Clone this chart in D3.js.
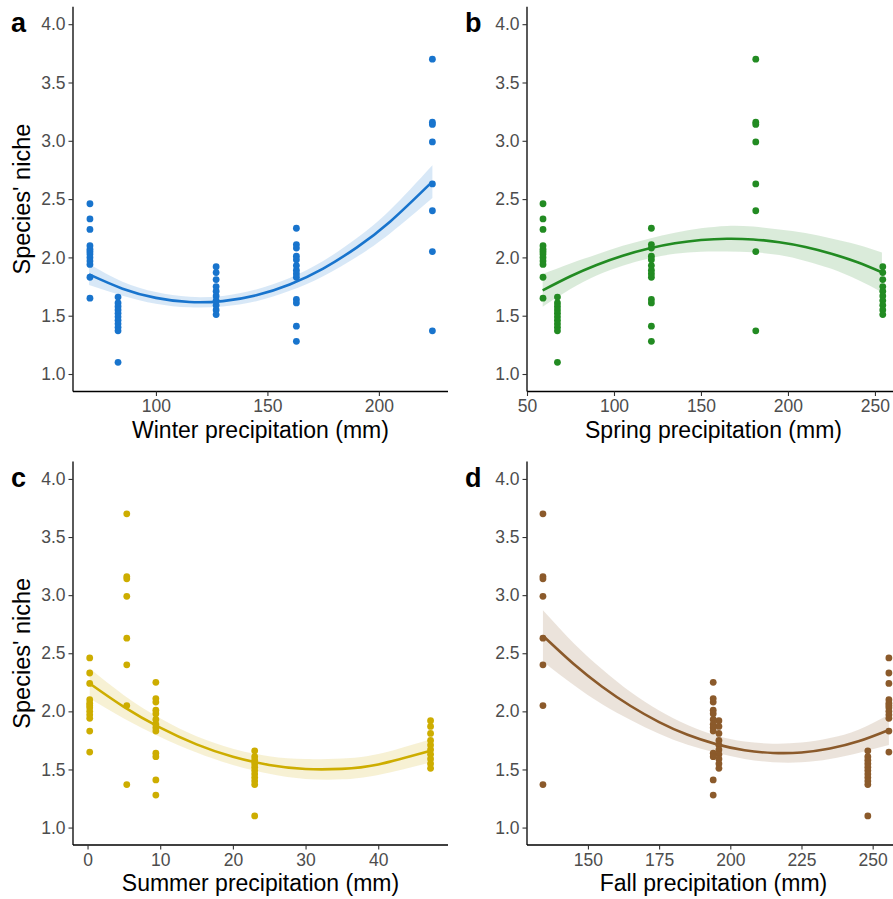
<!DOCTYPE html>
<html><head><meta charset="utf-8">
<script src="https://cdn.jsdelivr.net/npm/d3@7"></script>
<style>
html,body{margin:0;padding:0;background:#fff;}
svg{display:block;font-family:"Liberation Sans",Arial,sans-serif;}
</style></head>
<body><svg id="chart" width="893" height="899"></svg>
<script>
// ---- Species' niche values observed at each of the five sites ----
const nicheSiteA = [2.46, 2.33, 2.24, 2.10, 2.07, 2.05, 2.03, 2.00, 1.97, 1.94, 1.83, 1.65];
const nicheSiteB = [1.66, 1.61, 1.58, 1.55, 1.52, 1.49, 1.46, 1.43, 1.40, 1.37, 1.10];
const nicheSiteC = [1.92, 1.87, 1.81, 1.75, 1.71, 1.67, 1.63, 1.59, 1.55, 1.51];
const nicheSiteD = [2.25, 2.11, 2.08, 2.01, 1.98, 1.93, 1.89, 1.86, 1.83, 1.64, 1.61, 1.41, 1.28];
const nicheSiteE = [3.70, 3.16, 3.14, 2.99, 2.63, 2.40, 2.05, 1.37];

// ---- Seasonal precipitation (mm) at sites A..E ----
const winterPrecip = [70.4, 83.0, 127.0, 163.0, 224.0];
const springPrecip = [59.2, 67.5, 254.5, 121.5, 181.5];
const summerPrecip = [0.3, 23.0, 47.2, 9.4, 5.4];
const fallPrecip   = [255.7, 248.3, 196.0, 194.0, 134.2];

// ---- Quadratic fits (x, fit, lower, upper) ----
const winterFitX  = [70, 85, 100, 115, 130, 145, 160, 175, 190, 205, 224];
const winterFitY  = [1.854, 1.732, 1.653, 1.617, 1.625, 1.675, 1.768, 1.904, 2.084, 2.306, 2.650];
const winterFitLo = [1.764, 1.672, 1.603, 1.572, 1.580, 1.625, 1.713, 1.839, 2.004, 2.206, 2.510];
const winterFitHi = [1.944, 1.792, 1.703, 1.662, 1.670, 1.725, 1.823, 1.969, 2.164, 2.406, 2.790];

const springFitX  = [59, 75, 90, 105, 120, 135, 150, 165, 180, 195, 210, 225, 240, 254];
const springFitY  = [1.717, 1.838, 1.935, 2.014, 2.076, 2.121, 2.149, 2.160, 2.154, 2.130, 2.090, 2.032, 1.958, 1.872];
const springFitLo = [1.577, 1.728, 1.845, 1.929, 1.991, 2.031, 2.049, 2.050, 2.044, 2.020, 1.970, 1.902, 1.808, 1.702];
const springFitHi = [1.857, 1.948, 2.025, 2.099, 2.161, 2.211, 2.249, 2.270, 2.264, 2.240, 2.210, 2.162, 2.108, 2.042];

const summerFitX  = [0.3, 5, 10, 15, 20, 25, 30, 35, 40, 47.2];
const summerFitY  = [2.240, 2.039, 1.860, 1.716, 1.609, 1.539, 1.504, 1.505, 1.543, 1.660];
const summerFitLo = [2.110, 1.939, 1.780, 1.646, 1.539, 1.464, 1.419, 1.415, 1.453, 1.560];
const summerFitHi = [2.370, 2.139, 1.940, 1.786, 1.679, 1.614, 1.589, 1.595, 1.633, 1.760];

const fallFitX  = [134.2, 145, 155, 165, 175, 185, 195, 205, 215, 225, 235, 245, 255.7];
const fallFitY  = [2.650, 2.407, 2.212, 2.046, 1.908, 1.798, 1.718, 1.665, 1.642, 1.646, 1.680, 1.742, 1.840];
const fallFitLo = [2.430, 2.227, 2.062, 1.926, 1.808, 1.713, 1.643, 1.590, 1.562, 1.561, 1.590, 1.642, 1.710];
const fallFitHi = [2.870, 2.587, 2.362, 2.166, 2.008, 1.883, 1.793, 1.740, 1.722, 1.731, 1.770, 1.842, 1.970];

// ---- Axis ticks and labels ----
const yTicks = [1.0, 1.5, 2.0, 2.5, 3.0, 3.5, 4.0];
const yDomain = [0.85, 4.15];
const winterTicks = [100, 150, 200];
const springTicks = [50, 100, 150, 200, 250];
const summerTicks = [0, 10, 20, 30, 40];
const fallTicks = [150, 175, 200, 225, 250];
const panelLetters = ["a", "b", "c", "d"];
const xTitles = ["Winter precipitation (mm)", "Spring precipitation (mm)", "Summer precipitation (mm)", "Fall precipitation (mm)"];
const yTitle = "Species' niche";

const nicheBySite = [nicheSiteA, nicheSiteB, nicheSiteC, nicheSiteD, nicheSiteE];

const panels = [
  {letter: panelLetters[0], precip: winterPrecip, ticks: winterTicks, title: xTitles[0], domain: [62.8, 231.0],
   fx: winterFitX, fy: winterFitY, flo: winterFitLo, fhi: winterFitHi, color: "#1874CD",
   x0: 73, x1: 448, y0: 6.7, y1: 391.5, ytitle: true},
  {letter: panelLetters[1], precip: springPrecip, ticks: springTicks, title: xTitles[1], domain: [50, 264.4],
   fx: springFitX, fy: springFitY, flo: springFitLo, fhi: springFitHi, color: "#228B22",
   x0: 527, x1: 900, y0: 6.7, y1: 391.5, ytitle: false},
  {letter: panelLetters[2], precip: summerPrecip, ticks: summerTicks, title: xTitles[2], domain: [-2.0, 49.6],
   fx: summerFitX, fy: summerFitY, flo: summerFitLo, fhi: summerFitHi, color: "#CDAD00",
   x0: 73, x1: 448, y0: 461.5, y1: 845, ytitle: true},
  {letter: panelLetters[3], precip: fallPrecip, ticks: fallTicks, title: xTitles[3], domain: [128.6, 259.6],
   fx: fallFitX, fy: fallFitY, flo: fallFitLo, fhi: fallFitHi, color: "#8B5A2B",
   x0: 527, x1: 900, y0: 461.5, y1: 845, ytitle: false}
];

const svg = d3.select("#chart");

panels.forEach(p => {
  const g = svg.append("g");
  const x = d3.scaleLinear().domain(p.domain).range([p.x0, p.x1]);
  const y = d3.scaleLinear().domain(yDomain).range([p.y1, p.y0]);

  // confidence ribbon
  const band = p.fx.map((v, i) => ({x: v, lo: p.flo[i], hi: p.fhi[i], y: p.fy[i]}));
  g.append("path").datum(band)
    .attr("d", d3.area().x(d => x(d.x)).y0(d => y(d.lo)).y1(d => y(d.hi)).curve(d3.curveNatural))
    .attr("fill", p.color).attr("fill-opacity", 0.17);

  // points
  const pts = [];
  nicheBySite.forEach((vals, si) => vals.forEach(v => pts.push({x: p.precip[si], y: v})));
  g.selectAll("circle").data(pts).enter().append("circle")
    .attr("cx", d => x(d.x)).attr("cy", d => y(d.y)).attr("r", 3.4)
    .attr("fill", p.color);

  // fit line
  g.append("path").datum(band)
    .attr("d", d3.line().x(d => x(d.x)).y(d => y(d.y)).curve(d3.curveNatural))
    .attr("fill", "none").attr("stroke", p.color).attr("stroke-width", 2.6);

  // axes
  const xa = g.append("g").attr("transform", `translate(0,${p.y1})`)
    .call(d3.axisBottom(x).tickValues(p.ticks).tickSize(4.5).tickPadding(4).tickFormat(d3.format("d")));
  const ya = g.append("g").attr("transform", `translate(${p.x0},0)`)
    .call(d3.axisLeft(y).tickValues(yTicks).tickSize(4.5).tickPadding(3).tickFormat(d3.format(".1f")));
  [xa, ya].forEach(a => {
    a.select(".domain").attr("stroke", "#000").attr("stroke-width", 1.3);
    a.selectAll(".tick line").attr("stroke", "#333").attr("stroke-width", 1.1);
    a.selectAll(".tick text").attr("fill", "#4d4d4d").attr("font-size", 17.5)
      .attr("font-family", "'Liberation Sans', Arial, sans-serif");
  });
  ya.select(".domain").attr("d", `M0,${p.y0}V${p.y1}`);
  xa.select(".domain").attr("d", `M${p.x0},0H${p.x1}`);

  // x title
  g.append("text")
    .attr("x", (p.x0 + p.x1) / 2).attr("y", p.y1 + 46)
    .attr("text-anchor", "middle").attr("font-size", 23).attr("fill", "#000")
    .text(p.title);

  if (p.ytitle) {
    g.append("text")
      .attr("transform", `translate(${p.x0 - 43},${(p.y0 + p.y1) / 2}) rotate(-90)`)
      .attr("text-anchor", "middle").attr("font-size", 23.5).attr("fill", "#000")
      .text(yTitle);
  }

  g.append("text").attr("x", p.x0 - 62).attr("y", p.y0 + 25)
    .attr("font-size", 27).attr("font-weight", "bold").attr("fill", "#000")
    .text(p.letter);
});
</script></body></html>
